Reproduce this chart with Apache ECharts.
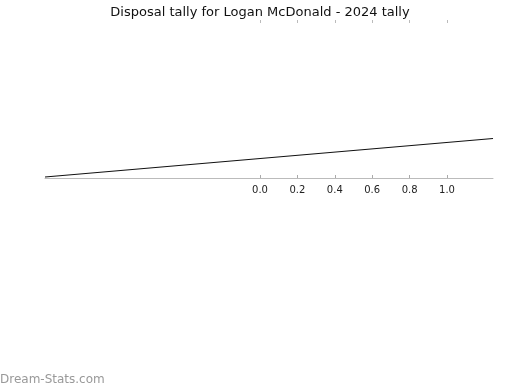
<!DOCTYPE html>
<html>
<head>
<meta charset="utf-8">
<script src="https://cdn.jsdelivr.net/npm/echarts@6/dist/echarts.min.js"></script>
<style>html,body{margin:0;padding:0;background:#fff}#c{width:520px;height:390px}</style>
</head>
<body>
<div id="c"></div>
<script>
var titleText = 'Disposal tally for Logan McDonald - 2024 tally';
var tickValues = [0, 0.2, 0.4, 0.6, 0.8, 1.0];
var lineX = [0, 1];
var lineY = [0.1, 4];
var watermark = 'Dream-Stats.com';

var chart = echarts.init(document.getElementById('c'));
var font = 'DejaVu Sans';
chart.setOption({
  animation: false,
  backgroundColor: '#fff',
  title: {text: titleText, left: 'center', top: 1,
    textStyle: {fontFamily: font, fontSize: 13, fontWeight: 'normal', color: '#111'}},
  grid: {left: 45, right: 27, top: 20, bottom: 212},
  xAxis: [
    {type: 'value', position: 'bottom', min: -1.15, max: 1.246,
     axisLine: {show: true, lineStyle: {color: '#bbb', width: 1}},
     axisTick: {show: true, inside: true, length: 3, customValues: tickValues, lineStyle: {color: '#aaa'}},
     axisLabel: {show: true, customValues: tickValues, margin: 7, fontFamily: font, fontSize: 10, color: '#222',
       formatter: function(v){ return v.toFixed(1); }},
     splitLine: {show: false}},
    {type: 'value', position: 'top', min: -1.15, max: 1.246,
     axisLine: {show: false},
     axisTick: {show: true, inside: true, length: 3, customValues: tickValues, lineStyle: {color: '#bbb'}},
     axisLabel: {show: false},
     splitLine: {show: false}},
    {type: 'value', min: 0, max: 1, show: false}
  ],
  yAxis: {type: 'value', min: 0, max: 16, show: false},
  series: [{
    type: 'line', xAxisIndex: 2, showSymbol: false,
    lineStyle: {color: '#111', width: 1.2},
    data: lineX.map(function(x, i){ return [x, lineY[i]]; })
  }],
  graphic: [{type: 'text', left: 0, top: 374,
    style: {text: watermark, fontFamily: font, fontSize: 12, fill: '#999'}}]
});
</script>
</body>
</html>
